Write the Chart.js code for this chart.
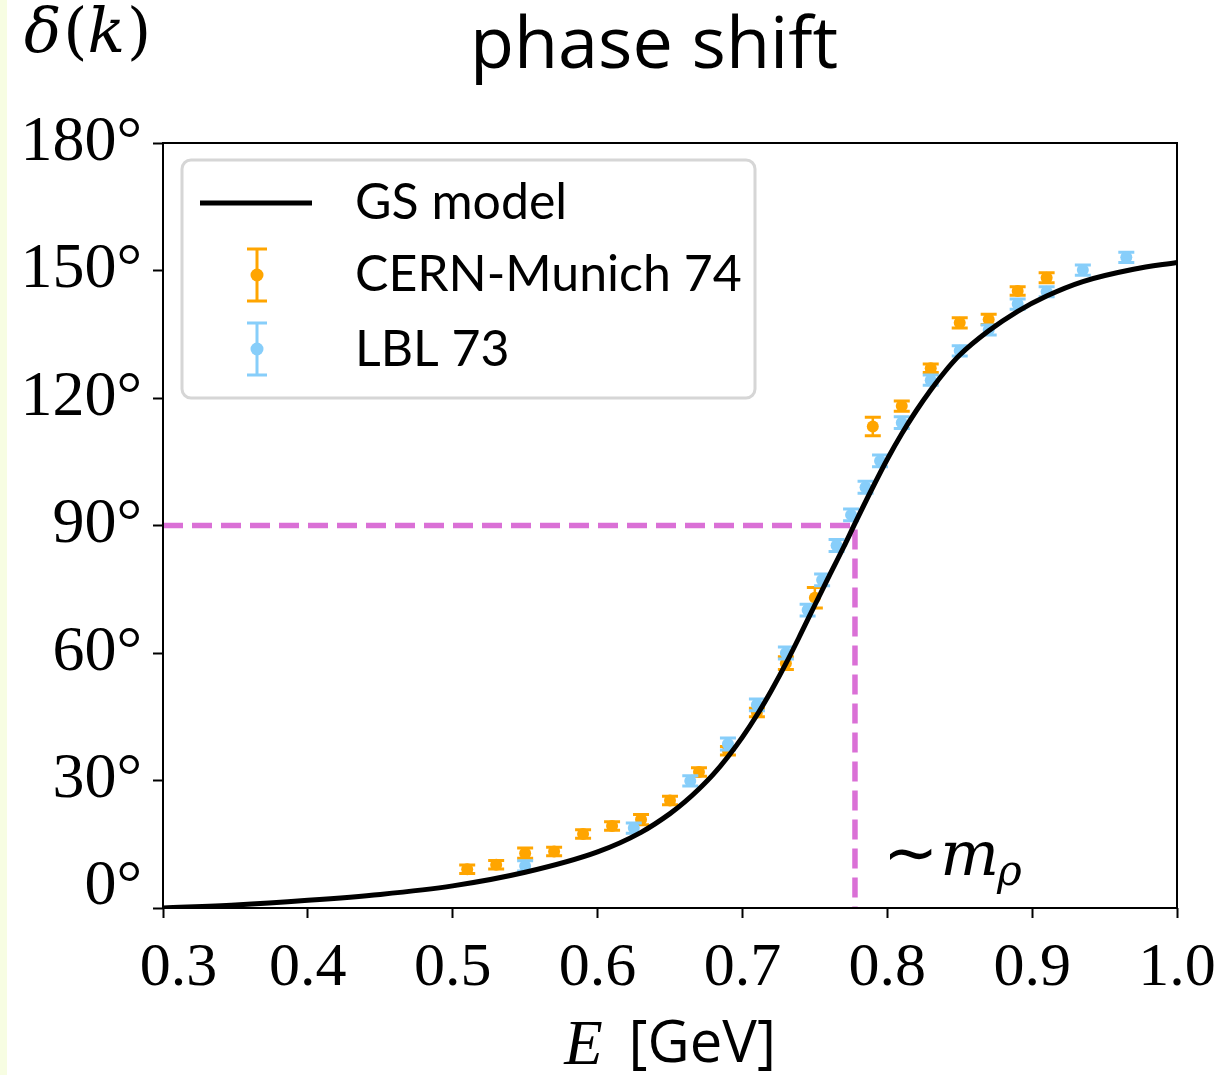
<!DOCTYPE html>
<html>
<head>
<meta charset="utf-8">
<script src="https://cdn.jsdelivr.net/npm/chart.js@4.4.1/dist/chart.umd.min.js"></script>
<style>
  html, body { margin: 0; padding: 0; background: #fff; }
  #wrap { width: 1232px; height: 1075px; position: relative; }
</style>
</head>
<body>
<div id="wrap"><canvas id="grafico" width="1232" height="1075"></canvas></div>
<script>
// valores
const xTicks = [0.3, 0.4, 0.5, 0.6, 0.7, 0.8, 0.9, 1.0];
const yTicks = [0, 30, 60, 90, 120, 150, 180];

const gsE     = [0.30, 0.35, 0.40, 0.45, 0.50, 0.55, 0.60, 0.63, 0.65, 0.66, 0.67, 0.68, 0.69, 0.70, 0.71, 0.72, 0.73, 0.74, 0.75, 0.76, 0.77, 0.7777, 0.79, 0.80, 0.81, 0.82, 0.83, 0.84, 0.85, 0.87, 0.89, 0.91, 0.935, 0.97, 1.00];
const gsDelta = [0, 0.7, 1.8, 3.2, 5.2, 8.4, 13.2, 17.8, 22.2, 24.9, 28, 31.5, 35.6, 40.2, 45.4, 51.2, 57.5, 64.3, 71.3, 78.2, 85, 90.5, 99, 105.6, 111.6, 117, 121.9, 126.3, 130.1, 135.8, 140.4, 144, 147.4, 150.3, 151.9];

const cernE     = [0.51, 0.53, 0.55, 0.57, 0.59, 0.61, 0.63, 0.65, 0.67, 0.69, 0.71, 0.73, 0.75, 0.79, 0.81, 0.83, 0.85, 0.87, 0.89, 0.91];
const cernDelta = [9.1, 10.2, 12.9, 13.3, 17.4, 19.3, 20.8, 25.3, 32, 37, 46, 57.6, 73, 113.3, 118.1, 127, 137.7, 138.5, 145.2, 148.3];
const cernErr   = [1, 1, 1.2, 1, 1, 1, 1.2, 1, 1, 1, 1, 1.5, 2.4, 2.2, 1.2, 1, 1.2, 1.2, 1, 1.2];

const lblE     = [0.55, 0.625, 0.664, 0.69, 0.71, 0.73, 0.745, 0.755, 0.765, 0.775, 0.785, 0.795, 0.81, 0.83, 0.85, 0.87, 0.89, 0.91, 0.935, 0.965];
const lblDelta = [9.9, 18.8, 29.9, 38.6, 47.8, 60, 70.1, 77.2, 85.3, 92.5, 99, 105.2, 114.2, 124.2, 131.1, 136, 142.1, 145, 150.1, 153.1];
const lblErr   = [1.2, 1.2, 1.2, 1.4, 1.4, 1.4, 1.4, 1.4, 1.4, 1.4, 1.4, 1.4, 1.4, 1.2, 1.2, 1.2, 1.2, 1.2, 1.2, 1.2];

const mRho = 0.7777;

const LARANJA = '#ffa500';
const AZUL = '#87cefa';
const ORQUIDEA = '#da70d6';

function pontos(xs, ys) {
  return xs.map((x, i) => ({ x: x, y: ys[i] }));
}

function desenharErros(chart, ds) {
  const ctx = chart.ctx;
  const sx = chart.scales.x;
  const sy = chart.scales.y;
  ctx.save();
  ctx.strokeStyle = ds.borderColor;
  ds.data.forEach((p, i) => {
    const px = sx.getPixelForValue(p.x);
    const topo = sy.getPixelForValue(p.y + ds.errors[i]);
    const base = sy.getPixelForValue(p.y - ds.errors[i]);
    ctx.lineWidth = 2.5;
    ctx.beginPath();
    ctx.moveTo(px, topo);
    ctx.lineTo(px, base);
    ctx.stroke();
    ctx.lineWidth = 3;
    ctx.beginPath();
    ctx.moveTo(px - 8, topo); ctx.lineTo(px + 8, topo);
    ctx.moveTo(px - 8, base); ctx.lineTo(px + 8, base);
    ctx.stroke();
  });
  ctx.restore();
}

function simboloErro(ctx, x, y, cor) {
  ctx.strokeStyle = cor;
  ctx.fillStyle = cor;
  ctx.lineWidth = 3;
  ctx.beginPath();
  ctx.moveTo(x, y - 26); ctx.lineTo(x, y + 26);
  ctx.moveTo(x - 10, y - 26); ctx.lineTo(x + 10, y - 26);
  ctx.moveTo(x - 10, y + 26); ctx.lineTo(x + 10, y + 26);
  ctx.stroke();
  ctx.beginPath();
  ctx.arc(x, y, 6.5, 0, Math.PI * 2);
  ctx.fill();
}

const pluginExtras = {
  id: 'extras',
  beforeDraw(chart) {
    const ctx = chart.ctx;
    ctx.save();
    ctx.fillStyle = '#ffffff';
    ctx.fillRect(0, 0, chart.width, chart.height);
    ctx.fillStyle = '#f7fde2';
    ctx.fillRect(0, 0, 7, chart.height);
    ctx.restore();
  },
  beforeDatasetDraw(chart, args) {
    const ds = chart.data.datasets[args.index];
    if (ds.errors) desenharErros(chart, ds);
  },
  afterDraw(chart) {
    const ctx = chart.ctx;
    const a = chart.chartArea;
    const sx = chart.scales.x;
    const sy = chart.scales.y;
    ctx.save();

    // moldura
    ctx.strokeStyle = '#000';
    ctx.lineWidth = 2;
    ctx.strokeRect(a.left, a.top, a.right - a.left, a.bottom - a.top);

    // título
    ctx.fillStyle = '#000';
    ctx.textAlign = 'center';
    ctx.textBaseline = 'alphabetic';
    ctx.font = '72px "Open Sans"';
    ctx.fillText('phase shift', 654, 68);

    // delta(k)
    ctx.textAlign = 'left';
    ctx.font = 'italic 62px "DejaVu Serif"';
    let x = 24;
    ctx.fillText('δ', x, 52); x += ctx.measureText('δ').width + 2;
    ctx.font = '62px "DejaVu Serif"';
    ctx.fillText('(', x, 52); x += ctx.measureText('(').width;
    ctx.font = 'italic 62px "DejaVu Serif"';
    ctx.fillText('k', x, 52); x += ctx.measureText('k').width + 2;
    ctx.font = '62px "DejaVu Serif"';
    ctx.fillText(')', x, 52);

    // E [GeV]
    ctx.font = 'italic 63px "Liberation Serif"';
    const wE = ctx.measureText('E').width;
    ctx.font = '58px "Open Sans"';
    const wG = ctx.measureText('[GeV]').width;
    const gap = 26;
    let xl = (a.left + a.right) / 2 - (wE + gap + wG) / 2;
    ctx.font = 'italic 63px "Liberation Serif"';
    ctx.fillText('E', xl, 1064);
    ctx.font = '58px "Open Sans"';
    ctx.fillText('[GeV]', xl + wE + gap, 1062);

    // ~m_rho
    const xm = sx.getPixelForValue(mRho) + 28;
    const ym = sy.getPixelForValue(0) - 33;
    ctx.font = '66px "DejaVu Sans"';
    const wT = ctx.measureText('∼').width;
    ctx.fillText('∼', xm, ym);
    let xr = xm + wT + 2;
    ctx.font = 'italic 62px "DejaVu Serif"';
    ctx.fillText('m', xr, ym);
    xr += ctx.measureText('m').width - 2;
    ctx.font = 'italic 42px "DejaVu Serif"';
    ctx.fillText('ρ', xr, ym + 10);

    // legenda
    const lx = 182, ly = 160, lw = 573, lh = 238;
    ctx.fillStyle = 'rgba(255,255,255,0.85)';
    ctx.strokeStyle = '#d6d6d6';
    ctx.lineWidth = 3;
    ctx.beginPath();
    ctx.roundRect(lx, ly, lw, lh, 9);
    ctx.fill();
    ctx.stroke();

    ctx.strokeStyle = '#000';
    ctx.lineWidth = 5;
    ctx.beginPath();
    ctx.moveTo(200, 203); ctx.lineTo(312, 203);
    ctx.stroke();
    simboloErro(ctx, 257, 275, LARANJA);
    simboloErro(ctx, 257, 349, AZUL);

    ctx.fillStyle = '#000';
    ctx.font = '50px Lato';
    ctx.textBaseline = 'middle';
    ctx.fillText('GS model', 355, 203);
    ctx.fillText('CERN-Munich 74', 355, 275);
    ctx.fillText('LBL 73', 355, 350);

    ctx.restore();
  }
};

const ctx = document.getElementById('grafico');

new Chart(ctx, {
  type: 'scatter',
  data: {
    datasets: [
      {
        label: 'GS model',
        data: pontos(gsE, gsDelta),
        showLine: true,
        borderColor: '#000',
        borderWidth: 5,
        pointRadius: 0,
        cubicInterpolationMode: 'monotone',
        order: 0
      },
      {
        label: 'LBL 73',
        data: pontos(lblE, lblDelta),
        errors: lblErr,
        borderColor: AZUL,
        backgroundColor: AZUL,
        pointBackgroundColor: AZUL,
        pointBorderWidth: 0,
        pointRadius: 6,
        order: 1
      },
      {
        label: 'CERN-Munich 74',
        data: pontos(cernE, cernDelta),
        errors: cernErr,
        borderColor: LARANJA,
        backgroundColor: LARANJA,
        pointBackgroundColor: LARANJA,
        pointBorderWidth: 0,
        pointRadius: 6,
        order: 2
      },
      {
        label: 'm_rho',
        data: [{ x: 0.3, y: 90 }, { x: mRho, y: 90 }, { x: mRho, y: 0 }],
        showLine: true,
        borderColor: ORQUIDEA,
        borderWidth: 5.5,
        borderDash: [20, 9],
        pointRadius: 0,
        order: 3
      }
    ]
  },
  options: {
    responsive: false,
    animation: false,
    devicePixelRatio: 1,
    layout: { padding: { left: 0, right: 55, top: 143, bottom: 0 } },
    plugins: {
      legend: { display: false },
      tooltip: { enabled: false },
      title: { display: false }
    },
    scales: {
      x: {
        type: 'linear',
        min: 0.3,
        max: 1.0,
        afterBuildTicks: s => { s.ticks = xTicks.map(v => ({ value: v })); },
        afterFit: s => { s.height = 167; },
        border: { display: false },
        grid: { display: true, drawOnChartArea: false, drawTicks: true, tickLength: 10, tickWidth: 2, tickColor: '#000' },
        ticks: {
          color: '#000',
          padding: 14,
          maxRotation: 0,
          font: { family: '"Liberation Serif"', size: 62 },
          // o primeiro rótulo fica um pouco deslocado para a direita no original
          callback: v => (v === xTicks[0] ? '\u2002' : '') + Number(v).toFixed(1)
        }
      },
      y: {
        type: 'linear',
        min: 0,
        max: 180,
        afterBuildTicks: s => { s.ticks = yTicks.map(v => ({ value: v })); },
        afterFit: s => { s.width = 163; },
        border: { display: false },
        grid: { display: true, drawOnChartArea: false, drawTicks: true, tickLength: 10, tickWidth: 2, tickColor: '#000' },
        ticks: {
          color: '#000',
          padding: 11,
          font: { family: '"Liberation Serif"', size: 64, lineHeight: 0.66 },
          // o rótulo 0° aparece levantado no original
          callback: v => (v === 0 ? [v + '°', ''] : v + '°')
        }
      }
    }
  },
  plugins: [pluginExtras]
});
</script>
</body>
</html>
